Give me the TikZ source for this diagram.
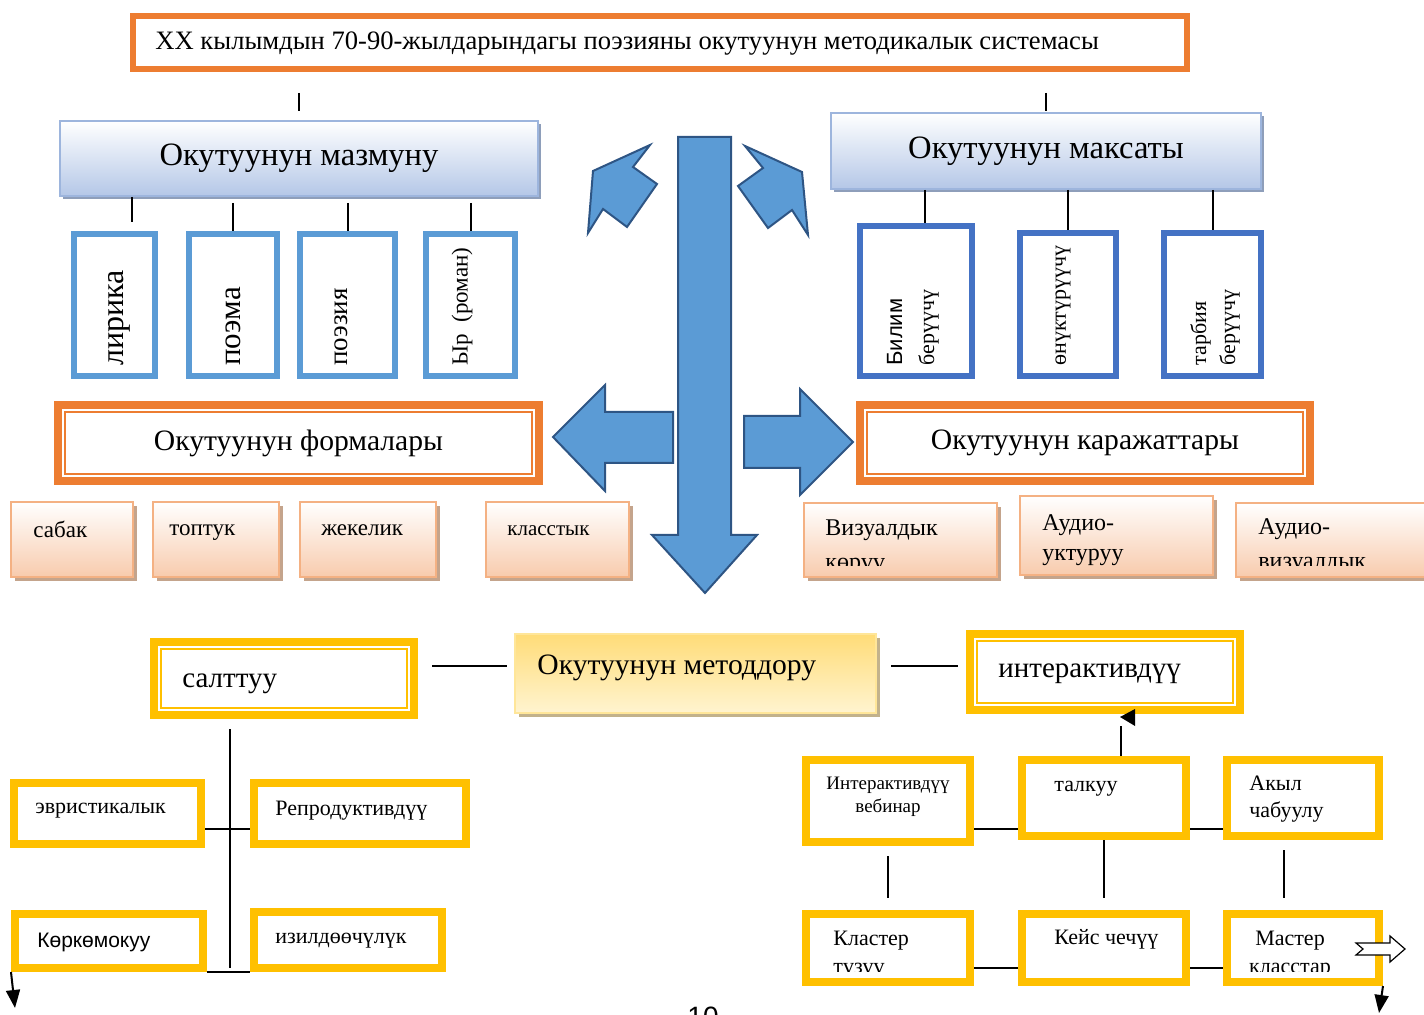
\documentclass[tikz,border=0pt]{standalone}
\usepackage{fontspec}
\setmainfont{Liberation Serif}
\newfontfamily\arialfont{Liberation Sans}
\usetikzlibrary{shadows,arrows.meta}
\definecolor{borange}{HTML}{ED7D31}
\definecolor{lblue}{HTML}{5B9BD5}
\definecolor{dblue}{HTML}{4472C4}
\definecolor{gold}{HTML}{FFC000}
\definecolor{peach}{HTML}{F8CBAD}
\definecolor{peachedge}{HTML}{F4B183}
\definecolor{peachshadow}{HTML}{C4A48C}
\definecolor{headblue}{HTML}{B4C7E7}
\definecolor{headedge}{HTML}{9DB5DD}
\definecolor{headshadow}{HTML}{8E9EBA}
\definecolor{arrowblue}{HTML}{5B9BD5}
\definecolor{arrowedge}{HTML}{2E5584}
\definecolor{metodtop}{HTML}{FFDC78}
\definecolor{metodbot}{HTML}{FFF4D0}
\definecolor{metodedge}{HTML}{FFE699}
\definecolor{metodshadow}{HTML}{C2B28C}

\begin{document}
\begin{tikzpicture}[x=0.5pt, y=-0.5pt,
    conn/.style={line width=1pt},
    arr/.style={line width=1pt, -{Triangle[length=9pt,width=7pt]}},
    blockarrow/.style={fill=arrowblue, draw=arrowedge, line width=1pt},
    titlebox/.style={draw=borange, line width=3pt, fill=white, inner sep=0pt},
    headbox/.style={draw=headedge, line width=1pt, top color=white, bottom color=headblue,
      general shadow={fill=headshadow, shadow xshift=1.5pt, shadow yshift=-1.5pt}, inner sep=0pt},
    genrebox/.style={draw=#1, line width=3pt, fill=white, inner sep=0pt},
    dblbox/.style={draw=#1, line width=4pt, fill=white, inner sep=0pt},
    formbox/.style={draw=peachedge, line width=1pt, top color=white, bottom color=peach,
      general shadow={fill=peachshadow, shadow xshift=2pt, shadow yshift=-2pt}, inner sep=0pt},
    metodbox/.style={draw=metodedge, line width=1pt, top color=metodtop, bottom color=metodbot,
      general shadow={fill=metodshadow, shadow xshift=2pt, shadow yshift=-2pt}, inner sep=0pt},
    goldbox/.style={draw=gold, line width=4pt, fill=white, inner sep=0pt},
    lbl/.style={anchor=west, inner sep=0pt},
    vtext/.style={rotate=90, anchor=west, inner sep=0pt}]

  \useasboundingbox (0,0) rectangle (1424,1015);

  % title
  \node[titlebox, minimum width=527pt, minimum height=26.5pt] (title) at (660,42.5) {};
  \node[lbl, font=\fontsize{13.3}{16}\selectfont] (title-t) at (155,44)
    {XX кылымдын 70-90-жылдарындагы поэзияны окутуунун методикалык системасы};

  % mazmun / maksat
  \node[headbox, minimum width=239pt, minimum height=37.5pt, font=\fontsize{16.3}{20}\selectfont]
    (mazmun) at (299,158.5) {Окутуунун мазмуну};
  \node[headbox, minimum width=215pt, minimum height=38pt, font=\fontsize{16.3}{20}\selectfont]
    (maksat) at (1046,151) {Окутуунун максаты};

  \draw[conn, shorten <=10.5pt, shorten >=4.5pt] (title.south -| mazmun.north) -- (mazmun.north);
  \draw[conn, shorten <=10.5pt, shorten >=0.5pt] (title.south -| maksat.north) -- (maksat.north);

  % genres
  \node[genrebox=lblue, minimum width=40.5pt, minimum height=71pt] (lirika) at (114.5,305) {};
  \node[genrebox=lblue, minimum width=44pt, minimum height=71pt] (poema) at (233,305) {};
  \node[genrebox=lblue, minimum width=47.5pt, minimum height=71pt] (poezia) at (347.5,305) {};
  \node[genrebox=lblue, minimum width=44.5pt, minimum height=71pt] (yr) at (470.5,305) {};
  \node[vtext, font=\fontsize{16}{19}\selectfont] (lirika-t) at (119,366) {лирика};
  \node[vtext, font=\fontsize{15.5}{18}\selectfont] (poema-t) at (233,366) {поэма};
  \node[vtext, font=\fontsize{13.5}{16}\selectfont] (poezia-t) at (341,366) {поэзия};
  \node[vtext, font=\fontsize{11.5}{14}\selectfont] (yr-t) at (462,366) {Ыр\ \ (роман)};

  \coordinate (lirline) at (132,0);
  \draw[conn, shorten >=4.5pt] (mazmun.south -| lirline) -- (lirika.north -| lirline);
  \draw[conn, shorten <=3pt] (mazmun.south -| poema.north) -- (poema.north);
  \draw[conn, shorten <=3pt] (mazmun.south -| poezia.north) -- (poezia.north);
  \draw[conn, shorten <=3pt] (mazmun.south -| yr.north) -- (yr.north);

  % aims
  \node[genrebox=dblue, minimum width=56pt, minimum height=75pt] (bilim) at (916,301) {};
  \node[genrebox=dblue, minimum width=48pt, minimum height=71.5pt] (onuk) at (1068,304.5) {};
  \node[genrebox=dblue, minimum width=48.5pt, minimum height=71.5pt] (tarbia) at (1212.5,304.5) {};
  \node[vtext, align=left, font=\fontsize{11}{16}\selectfont] (bilim-t) at (913,366)
    {{\arialfont Билим}\\берүүчү};
  \node[vtext, font=\fontsize{11}{14}\selectfont] (onuk-t) at (1063,366) {өнүктүрүүчү};
  \node[vtext, align=left, font=\fontsize{11}{14.5}\selectfont] (tarbia-t) at (1215,366)
    {тарбия\\берүүчү};

  \coordinate (billine) at (925,0);
  \draw[conn] (maksat.south -| billine) -- (bilim.north -| billine);
  \draw[conn] (maksat.south -| onuk.north) -- (onuk.north);
  \draw[conn] (maksat.south -| tarbia.north) -- (tarbia.north);

  % forms and means
  \node[dblbox=borange, minimum width=240.5pt, minimum height=38pt, font=\fontsize{14.8}{18}\selectfont]
    (forma) at (298.5,443) {Окутуунун формалары};
  \draw[borange, line width=1pt] ([shift={(11,11)}]forma.north west) rectangle ([shift={(-11,-11)}]forma.south east);
  \node[dblbox=borange, minimum width=225pt, minimum height=38pt, font=\fontsize{14.8}{18}\selectfont]
    (karazh) at (1085,443) {Окутуунун каражаттары};
  \draw[borange, line width=1pt] ([shift={(11,11)}]karazh.north west) rectangle ([shift={(-11,-11)}]karazh.south east);

  \node[formbox, minimum width=61pt, minimum height=37.5pt] (sabak) at (72,539.5) {};
  \node[formbox, minimum width=63pt, minimum height=37.5pt] (toptuk) at (216,539.5) {};
  \node[formbox, minimum width=68pt, minimum height=37.5pt] (jekelik) at (368,539.5) {};
  \node[formbox, minimum width=71.5pt, minimum height=37.5pt] (klass) at (557.5,539.5) {};
  \node[lbl, font=\fontsize{11.5}{14}\selectfont] (sabak-t) at (33,529) {сабак};
  \node[lbl, font=\fontsize{11.5}{14}\selectfont] (toptuk-t) at (169,533) {топтук};
  \node[lbl, font=\fontsize{11.5}{14}\selectfont] (jekelik-t) at (321,530) {жекелик};
  \node[lbl, font=\fontsize{10.5}{13}\selectfont] (klass-t) at (507,531) {класстык};

  \node[formbox, minimum width=96.5pt, minimum height=37pt] (viz) at (900.5,540) {};
  \node[formbox, minimum width=96.5pt, minimum height=39.5pt] (audio) at (1116.5,535.5) {};
  \node[formbox, minimum width=97pt, minimum height=37pt] (audviz) at (1333,540) {};
  \begin{scope}
    \clip (804,503) rectangle (1424,566);
    \node[lbl, align=left, font=\fontsize{12}{17}\selectfont] (viz-t) at (825,547) {Визуалдык\\көрүү};
    \node[lbl, align=left, font=\fontsize{12}{17}\selectfont] (audviz-t) at (1258,546) {Аудио-\\визуалдык};
  \end{scope}
  \node[lbl, align=left, font=\fontsize{12}{15}\selectfont] (audio-t) at (1042,540) {Аудио-\\уктуруу};

  % block arrows
  \filldraw[blockarrow] (678,137) -- (731,137) -- (731,535) -- (757,535) -- (705,593)
    -- (652,535) -- (678,535) -- cycle;
  \filldraw[blockarrow] (673,412) -- (605,412) -- (605,385) -- (553,437) -- (605,491)
    -- (605,463) -- (673,463) -- cycle;
  \filldraw[blockarrow] (744,416) -- (800,416) -- (800,389) -- (853,442) -- (800,495)
    -- (800,468) -- (744,468) -- cycle;
  \filldraw[blockarrow] (650,145) -- (593,171) -- (588,233) -- (603,209) -- (627,227)
    -- (657,184) -- (633,167) -- cycle;
  \filldraw[blockarrow] (745,146) -- (802,172) -- (808,235) -- (792,210) -- (768,228)
    -- (738,186) -- (763,168) -- cycle;

  % methods
  \node[metodbox, minimum width=180.5pt, minimum height=39.5pt] (metod) at (695.5,673.5) {};
  \node[lbl, font=\fontsize{14.8}{18}\selectfont] (metod-t) at (537,668) {Окутуунун методдору};

  \node[dblbox=gold, minimum width=130pt, minimum height=36.5pt] (salt) at (284,678.5) {};
  \draw[gold, line width=1pt] ([shift={(11,11)}]salt.north west) rectangle ([shift={(-11,-11)}]salt.south east);
  \node[lbl, font=\fontsize{14.5}{17}\selectfont] (salt-t) at (182,684) {салттуу};

  \node[dblbox=gold, minimum width=135pt, minimum height=38pt] (inter) at (1105,672) {};
  \draw[gold, line width=1pt] ([shift={(11,11)}]inter.north west) rectangle ([shift={(-11,-11)}]inter.south east);
  \node[lbl, font=\fontsize{14.5}{17}\selectfont] (inter-t) at (998,674) {интерактивдүү};

  \coordinate (mline) at (0,666);
  \draw[conn, shorten <=7pt, shorten >=3.5pt] (salt.east |- mline) -- (metod.west |- mline);
  \draw[conn, shorten <=7pt, shorten >=4pt] (metod.east |- mline) -- (inter.west |- mline);

  % traditional methods
  \node[goldbox, minimum width=93.5pt, minimum height=30.5pt] (evr) at (107.5,813.5) {};
  \node[goldbox, minimum width=106pt, minimum height=30.5pt] (repr) at (360,813.5) {};
  \node[goldbox, minimum width=94pt, minimum height=27pt] (kork) at (109,941) {};
  \node[goldbox, minimum width=94pt, minimum height=28pt] (izil) at (348,940) {};
  \node[lbl, font=\fontsize{11}{13}\selectfont] (evr-t) at (35,811) {эвристикалык};
  \node[lbl, font=\fontsize{11}{13}\selectfont] (repr-t) at (275,811) {Репродуктивдүү};
  \node[lbl, font=\arialfont\fontsize{10.5}{13}\selectfont] (kork-t) at (37,942) {Көркөмокуу};
  \node[lbl, font=\fontsize{11}{13}\selectfont] (izil-t) at (275,941) {изилдөөчүлүк};

  \coordinate (trunk) at (230,968);
  \coordinate (lline) at (0,829);
  \coordinate (korkend) at (15,1008);
  \draw[conn, shorten <=5pt] (salt.south -| trunk) -- (trunk);
  \draw[conn] (evr.east |- lline) -- (repr.west |- lline);
  \draw[conn] (kork.south east) -- (izil.south west);
  \draw[arr] (kork.south west) -- (korkend);

  % interactive methods
  \node[goldbox, minimum width=82pt, minimum height=41pt] (veb) at (888,801) {};
  \node[goldbox, minimum width=82pt, minimum height=38pt] (talk) at (1104,798) {};
  \node[goldbox, minimum width=76pt, minimum height=38pt] (akyl) at (1303,798) {};
  \node[goldbox, minimum width=82pt, minimum height=34pt] (klast) at (888,948) {};
  \node[goldbox, minimum width=82pt, minimum height=34pt] (keis) at (1104,948) {};
  \node[goldbox, minimum width=76pt, minimum height=34pt] (master) at (1303,948) {};
  \node[align=center, inner sep=0pt, font=\fontsize{9.5}{11.5}\selectfont] (veb-t) at (888,797)
    {Интерактивдүү\\вебинар};
  \node[lbl, font=\fontsize{11}{13}\selectfont] (talk-t) at (1054,789) {талкуу};
  \node[lbl, align=left, font=\fontsize{11}{13.5}\selectfont] (akyl-t) at (1249,799) {Акыл\\чабуулу};
  \node[lbl, font=\fontsize{11}{13}\selectfont] (keis-t) at (1054,939) {Кейс чечүү};
  \begin{scope}
    \clip (806,914) rectangle (1379,971);
    \node[lbl, align=left, font=\fontsize{11}{14}\selectfont] (klast-t) at (833,955) {Кластер\\түзүү};
    \node[align=center, inner sep=0pt, font=\fontsize{11}{14}\selectfont] (master-t) at (1290,955)
      {Мастер\\класстар};
  \end{scope}

  \coordinate (rline) at (0,829);
  \coordinate (bline) at (0,968);
  \coordinate (tline) at (1121,0);
  \coordinate (aline) at (1284,0);
  \coordinate (mastend) at (1379,1013);
  \draw[conn, shorten >=6pt] (talk.north -| tline) -- (inter.south -| tline);
  \fill (1120,717) -- (1135,709) -- (1135,726) -- cycle;
  \draw[conn] (veb.east |- rline) -- (talk.west |- rline);
  \draw[conn] (talk.east |- rline) -- (akyl.west |- rline);
  \draw[conn, shorten <=5pt, shorten >=6pt] (veb.south) -- (klast.north);
  \draw[conn, shorten >=6pt] (talk.south) -- (keis.north);
  \draw[conn, shorten <=5pt, shorten >=6pt] (akyl.south -| aline) -- (master.north -| aline);
  \draw[conn] (klast.east |- bline) -- (keis.west |- bline);
  \draw[conn] (keis.east |- bline) -- (master.west |- bline);
  \filldraw[fill=white, draw=black, line width=0.6pt] (1356,943) -- (1390,943) -- (1390,936)
    -- (1405,949) -- (1390,962) -- (1390,955) -- (1356,955) -- (1363,949) -- cycle;
  \draw[arr] (master.south east) -- (mastend);

  % page number
  \node[anchor=north, inner sep=0pt, font=\arialfont\fontsize{14}{16}\selectfont] (pagenum) at (703,1007) {10};
\end{tikzpicture}
\end{document}
